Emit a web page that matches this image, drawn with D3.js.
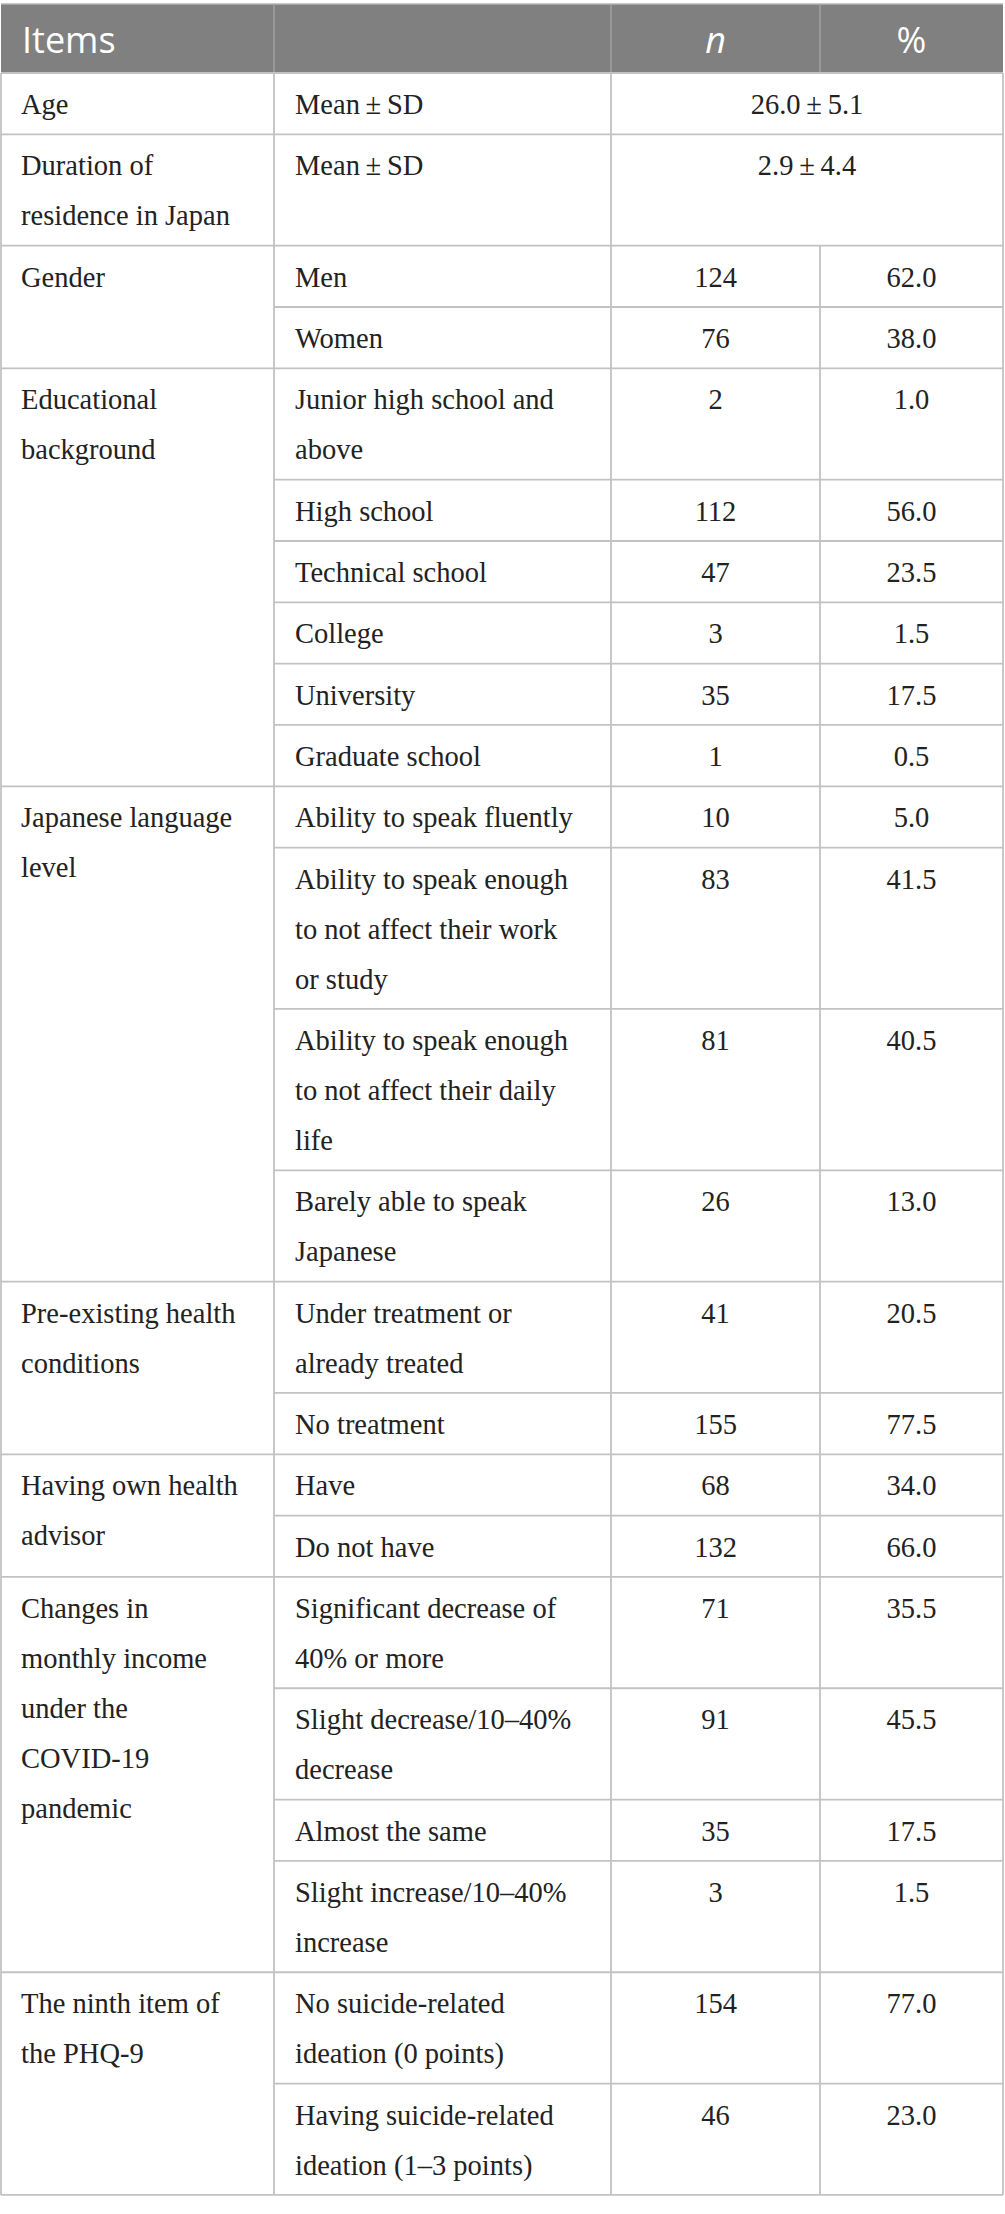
<!DOCTYPE html>
<html>
<head>
<meta charset="utf-8">
<script src="https://cdn.jsdelivr.net/npm/d3@7"></script>
<style>
  body { margin: 0; background: #fff; }
  svg { display: block; }
  .hdr { font-family: "Open Sans", sans-serif; font-size: 36px; fill: #fff; }
  .cell { font-family: "Liberation Serif", "Times New Roman", serif; font-size: 28.5px; fill: #222; }
  .grid { stroke: #c2c2c2; stroke-width: 1.8; }
</style>
</head>
<body>
<svg id="chart" width="1005" height="2214"></svg>
<script>
// header labels
const headerLabels = ["Items", "", "n", "%"];

// first column: group labels (already wrapped as in the print)
const groupLabels = [
  ["Age"],
  ["Duration of", "residence in Japan"],
  ["Gender"],
  ["Educational", "background"],
  ["Japanese language", "level"],
  ["Pre-existing health", "conditions"],
  ["Having own health", "advisor"],
  ["Changes in", "monthly income", "under the", "COVID-19", "pandemic"],
  ["The ninth item of", "the PHQ-9"],
];

// which group each row belongs to
const rowGroup = [0, 1, 2, 2, 3, 3, 3, 3, 3, 3, 4, 4, 4, 4, 5, 5, 6, 6, 7, 7, 7, 7, 8, 8];

// second column: sub-item labels
const rowItems = [
  ["Mean\u2009±\u2009SD"],
  ["Mean\u2009±\u2009SD"],
  ["Men"],
  ["Women"],
  ["Junior high school and", "above"],
  ["High school"],
  ["Technical school"],
  ["College"],
  ["University"],
  ["Graduate school"],
  ["Ability to speak fluently"],
  ["Ability to speak enough", "to not affect their work", "or study"],
  ["Ability to speak enough", "to not affect their daily", "life"],
  ["Barely able to speak", "Japanese"],
  ["Under treatment or", "already treated"],
  ["No treatment"],
  ["Have"],
  ["Do not have"],
  ["Significant decrease of", "40% or more"],
  ["Slight decrease/10\u201340%", "decrease"],
  ["Almost the same"],
  ["Slight increase/10\u201340%", "increase"],
  ["No suicide-related", "ideation (0 points)"],
  ["Having suicide-related", "ideation (1\u20133 points)"],
];

// mean and SD for the first two rows (span n and %)
const meanValues = [26.0, 2.9];
const sdValues = [5.1, 4.4];

const nValues = [null, null, 124, 76, 2, 112, 47, 3, 35, 1, 10, 83, 81, 26, 41, 155, 68, 132, 71, 91, 35, 3, 154, 46];
const pctValues = [null, null, 62.0, 38.0, 1.0, 56.0, 23.5, 1.5, 17.5, 0.5, 5.0, 41.5, 40.5, 13.0, 20.5, 77.5, 34.0, 66.0, 35.5, 45.5, 17.5, 1.5, 77.0, 23.0];

// layout
const TABLE = { left: 1, right: 1003, top: 4, headBottom: 73 };
const COL_X = [TABLE.left, 274, 611, 820, TABLE.right];
const LINE_H = 50;
const ROW_PAD = 11.33;
const BASE = 41;
const PAD_X = 21;

const svg = d3.select("#chart");
const fmt1 = d3.format(".1f");

// lines per row: a group that has only one row must also fit its own label
const groupSize = d3.rollup(rowGroup, (v) => v.length, (g) => g);
const rowLines = rowItems.map((lines, i) => {
  const g = rowGroup[i];
  return groupSize.get(g) === 1 ? Math.max(lines.length, groupLabels[g].length) : lines.length;
});

// row tops from line counts
const rowHeights = rowLines.map((k) => ROW_PAD + LINE_H * k);
const rowTops = [TABLE.headBottom, ...d3.cumsum(rowHeights).map((h) => TABLE.headBottom + h)];
const y = d3.scaleOrdinal().domain(d3.range(rowTops.length)).range(rowTops);
const tableBottom = y(rowItems.length);

// header
svg.append("rect")
  .attr("x", TABLE.left)
  .attr("y", TABLE.top)
  .attr("width", TABLE.right - TABLE.left)
  .attr("height", TABLE.headBottom - TABLE.top)
  .attr("fill", "#808080");

svg.append("line")
  .attr("x1", TABLE.left).attr("x2", TABLE.right)
  .attr("y1", TABLE.top).attr("y2", TABLE.top)
  .attr("stroke", "#b4b4b4").attr("stroke-width", 1.5);

svg.selectAll(".hdr-sep")
  .data(COL_X.slice(1, 4))
  .join("line")
  .attr("class", "hdr-sep")
  .attr("x1", (d) => d).attr("x2", (d) => d)
  .attr("y1", TABLE.top).attr("y2", TABLE.headBottom)
  .attr("stroke", "#a0a0a0").attr("stroke-width", 1.5);

svg.selectAll(".hdr")
  .data(headerLabels)
  .join("text")
  .attr("class", "hdr")
  .attr("x", (d, i) => (i < 2 ? COL_X[i] + PAD_X : (COL_X[i] + COL_X[i + 1]) / 2))
  .attr("y", 53)
  .attr("text-anchor", (d, i) => (i < 2 ? "start" : "middle"))
  .attr("font-style", (d) => (d === "n" ? "italic" : "normal"))
  .text((d) => d);

// grid: horizontal lines at row bottoms
const hLines = rowItems.map((d, i) => {
  const last = i === rowItems.length - 1 || rowGroup[i + 1] !== rowGroup[i];
  return { y: y(i + 1), x1: last ? TABLE.left : COL_X[1] };
});

svg.append("line")
  .attr("class", "grid")
  .attr("x1", TABLE.left).attr("x2", TABLE.right)
  .attr("y1", TABLE.headBottom).attr("y2", TABLE.headBottom);

svg.selectAll(".hline")
  .data(hLines)
  .join("line")
  .attr("class", "grid hline")
  .attr("x1", (d) => d.x1).attr("x2", TABLE.right)
  .attr("y1", (d) => d.y).attr("y2", (d) => d.y);

// vertical lines
const vLines = [
  { x: COL_X[0], y1: TABLE.headBottom },
  { x: COL_X[1], y1: TABLE.headBottom },
  { x: COL_X[2], y1: TABLE.headBottom },
  { x: COL_X[3], y1: y(meanValues.length) },
  { x: COL_X[4], y1: TABLE.headBottom },
];
svg.selectAll(".vline")
  .data(vLines)
  .join("line")
  .attr("class", "grid vline")
  .attr("x1", (d) => d.x).attr("x2", (d) => d.x)
  .attr("y1", (d) => d.y1).attr("y2", tableBottom);

// helper to draw multi-line text
function multiline(sel, lines) {
  sel.selectAll("tspan")
    .data(lines)
    .join("tspan")
    .attr("x", sel.attr("x"))
    .attr("dy", (d, i) => (i ? LINE_H : 0))
    .text((d) => d);
}

// group labels, top aligned in their row span
svg.selectAll(".group")
  .data(groupLabels)
  .join("text")
  .attr("class", "cell group")
  .attr("x", COL_X[0] + PAD_X - 1)
  .attr("y", (d, g) => y(rowGroup.indexOf(g)) + BASE)
  .each(function (d) { multiline(d3.select(this), d); });

// item labels
svg.selectAll(".item")
  .data(rowItems)
  .join("text")
  .attr("class", "cell item")
  .attr("x", COL_X[1] + PAD_X)
  .attr("y", (d, i) => y(i) + BASE)
  .each(function (d) { multiline(d3.select(this), d); });

// mean ± SD spanning n and %
svg.selectAll(".meansd")
  .data(meanValues)
  .join("text")
  .attr("class", "cell meansd")
  .attr("x", (COL_X[2] + COL_X[4]) / 2)
  .attr("y", (d, i) => y(i) + BASE)
  .attr("text-anchor", "middle")
  .text((d, i) => `${fmt1(d)}\u2009±\u2009${fmt1(sdValues[i])}`);

// n and %
svg.selectAll(".nval")
  .data(nValues)
  .join("text")
  .attr("class", "cell nval")
  .attr("x", (COL_X[2] + COL_X[3]) / 2)
  .attr("y", (d, i) => y(i) + BASE)
  .attr("text-anchor", "middle")
  .text((d) => (d == null ? "" : d));

svg.selectAll(".pval")
  .data(pctValues)
  .join("text")
  .attr("class", "cell pval")
  .attr("x", (COL_X[3] + COL_X[4]) / 2)
  .attr("y", (d, i) => y(i) + BASE)
  .attr("text-anchor", "middle")
  .text((d) => (d == null ? "" : fmt1(d)));
</script>
</body>
</html>
